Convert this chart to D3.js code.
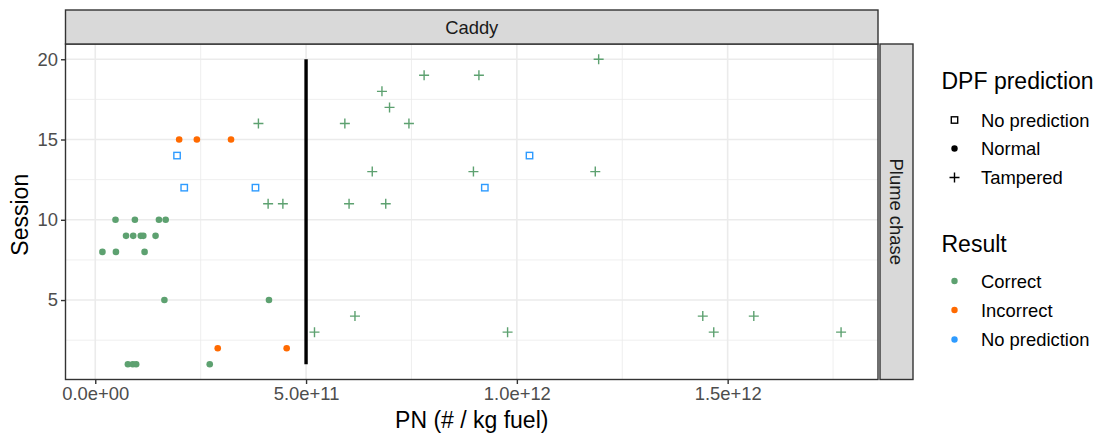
<!DOCTYPE html>
<html>
<head>
<meta charset="utf-8">
<script src="https://cdn.jsdelivr.net/npm/d3@7"></script>
<style>
  body { margin: 0; background: #fff; }
  svg { display: block; font-family: "Liberation Sans", Arial, Helvetica, sans-serif; }
</style>
</head>
<body>
<svg id="chart" width="1104" height="436"></svg>
<script>
// Particle number per session, one entry per measured vehicle
const session = [20, 19, 19, 18, 17, 16, 16, 16, 15, 15, 15, 14, 14, 13, 13, 13,
  12, 12, 12, 11, 11, 11, 11, 10, 10, 10, 10, 9, 9, 9, 9, 9, 8, 8, 8, 5, 5,
  4, 4, 4, 3, 3, 3, 3, 2, 2, 1, 1, 1, 1];
const pn = [1.194e12, 0.780e12, 0.910e12, 0.680e12, 0.698e12, 0.387e12, 0.592e12, 0.744e12,
  0.199e12, 0.241e12, 0.322e12, 0.194e12, 1.030e12, 0.657e12, 0.897e12, 1.186e12,
  0.211e12, 0.380e12, 0.924e12, 0.410e12, 0.445e12, 0.602e12, 0.689e12,
  0.048e12, 0.094e12, 0.151e12, 0.167e12, 0.073e12, 0.090e12, 0.108e12, 0.114e12, 0.143e12,
  0.017e12, 0.049e12, 0.117e12, 0.164e12, 0.412e12,
  0.616e12, 1.441e12, 1.562e12, 0.520e12, 0.978e12, 1.467e12, 1.769e12,
  0.2905e12, 0.454e12, 0.0774e12, 0.089e12, 0.097e12, 0.2715e12];
const dpf = ["Tampered", "Tampered", "Tampered", "Tampered", "Tampered", "Tampered", "Tampered", "Tampered",
  "Normal", "Normal", "Normal", "No prediction", "No prediction", "Tampered", "Tampered", "Tampered",
  "No prediction", "No prediction", "No prediction", "Tampered", "Tampered", "Tampered", "Tampered",
  "Normal", "Normal", "Normal", "Normal", "Normal", "Normal", "Normal", "Normal", "Normal",
  "Normal", "Normal", "Normal", "Normal", "Normal",
  "Tampered", "Tampered", "Tampered", "Tampered", "Tampered", "Tampered", "Tampered",
  "Normal", "Normal", "Normal", "Normal", "Normal", "Normal"];
const result = ["Correct", "Correct", "Correct", "Correct", "Correct", "Correct", "Correct", "Correct",
  "Incorrect", "Incorrect", "Incorrect", "No prediction", "No prediction", "Correct", "Correct", "Correct",
  "No prediction", "No prediction", "No prediction", "Correct", "Correct", "Correct", "Correct",
  "Correct", "Correct", "Correct", "Correct", "Correct", "Correct", "Correct", "Correct", "Correct",
  "Correct", "Correct", "Correct", "Correct", "Correct",
  "Correct", "Correct", "Correct", "Correct", "Correct", "Correct", "Correct",
  "Incorrect", "Incorrect", "Correct", "Correct", "Correct", "Correct"];

// Threshold marker
const threshold = 5e11;
const thresholdSessions = [1, 20];

// Axis breaks and legend entries
const xTicks = [0, 5e11, 1e12, 1.5e12];
const xMinor = [2.5e11, 7.5e11, 1.25e12, 1.75e12];
const yTicks = [5, 10, 15, 20];
const yMinor = [2.5, 7.5, 12.5, 17.5];
const dpfLevels = ["No prediction", "Normal", "Tampered"];
const resultLevels = ["Correct", "Incorrect", "No prediction"];
const resultColors = ["#5DA170", "#FF6A00", "#2E9BFF"];
const rowLabel = "Caddy";
const colLabel = "Plume chase";

const svg = d3.select("#chart");
const W = 1104, H = 436;
svg.append("rect").attr("width", W).attr("height", H).attr("fill", "#fff");

const panel = { left: 65.5, right: 878, top: 44, bottom: 379.5 };

function expand(ext, f) {
  const r = ext[1] - ext[0];
  return [ext[0] - r * f, ext[1] + r * f];
}
const x = d3.scaleLinear().domain(expand(d3.extent(pn), 0.05)).range([panel.left, panel.right]);
const y = d3.scaleLinear().domain(expand(d3.extent(session), 0.05)).range([panel.bottom, panel.top]);
const color = d3.scaleOrdinal().domain(resultLevels).range(resultColors);

const sciFmt = v => {
  if (v === 0) return "0.0e+00";
  const e = Math.floor(Math.log10(Math.abs(v)));
  const m = v / Math.pow(10, e);
  return m.toFixed(1) + "e" + (e < 0 ? "-" : "+") + String(Math.abs(e)).padStart(2, "0");
};

const g = svg.append("g");

// grid
const grid = g.append("g");
grid.selectAll(".xmin").data(xMinor).join("line")
  .attr("x1", d => x(d)).attr("x2", d => x(d)).attr("y1", panel.top).attr("y2", panel.bottom)
  .attr("stroke", "#EBEBEB").attr("stroke-width", 0.8);
grid.selectAll(".ymin").data(yMinor).join("line")
  .attr("y1", d => y(d)).attr("y2", d => y(d)).attr("x1", panel.left).attr("x2", panel.right)
  .attr("stroke", "#EBEBEB").attr("stroke-width", 0.8);
grid.selectAll(".xmaj").data(xTicks).join("line")
  .attr("x1", d => x(d)).attr("x2", d => x(d)).attr("y1", panel.top).attr("y2", panel.bottom)
  .attr("stroke", "#EBEBEB").attr("stroke-width", 1.6);
grid.selectAll(".ymaj").data(yTicks).join("line")
  .attr("y1", d => y(d)).attr("y2", d => y(d)).attr("x1", panel.left).attr("x2", panel.right)
  .attr("stroke", "#EBEBEB").attr("stroke-width", 1.6);

// threshold line
g.append("line")
  .attr("x1", x(threshold)).attr("x2", x(threshold))
  .attr("y1", y(thresholdSessions[0])).attr("y2", y(thresholdSessions[1]))
  .attr("stroke", "#000").attr("stroke-width", 3.4);

// points
const rows = pn.map((v, i) => ({ pn: v, session: session[i], dpf: dpf[i], result: result[i] }));
function drawShape(sel, shape, fill, sq, r, pl) {
  if (shape === "No prediction") {
    sel.append("rect").attr("x", -sq / 2).attr("y", -sq / 2).attr("width", sq).attr("height", sq)
      .attr("fill", "none").attr("stroke", fill).attr("stroke-width", 1.4);
  } else if (shape === "Normal") {
    sel.append("circle").attr("r", r).attr("fill", fill);
  } else {
    sel.append("path").attr("d", `M${-pl},0H${pl}M0,${-pl}V${pl}`)
      .attr("stroke", fill).attr("stroke-width", 1.4).attr("fill", "none");
  }
}
const pts = g.append("g");
rows.forEach(d => {
  const p = pts.append("g").attr("transform", `translate(${x(d.pn)},${y(d.session)})`);
  drawShape(p, d.dpf, color(d.result), 6.4, 3.3, 5);
});

// panel border
g.append("rect").attr("x", panel.left).attr("y", panel.top)
  .attr("width", panel.right - panel.left).attr("height", panel.bottom - panel.top)
  .attr("fill", "none").attr("stroke", "#333").attr("stroke-width", 1.4);

// strips
g.append("rect").attr("x", panel.left).attr("y", 10)
  .attr("width", panel.right - panel.left).attr("height", panel.top - 10)
  .attr("fill", "#D9D9D9").attr("stroke", "#333").attr("stroke-width", 1.4);
g.append("text").attr("x", (panel.left + panel.right) / 2).attr("y", (10 + panel.top) / 2)
  .attr("text-anchor", "middle").attr("dominant-baseline", "central")
  .attr("font-size", 18.4).attr("fill", "#1A1A1A").text(rowLabel);
g.append("rect").attr("x", 880).attr("y", panel.top)
  .attr("width", 33).attr("height", panel.bottom - panel.top)
  .attr("fill", "#D9D9D9").attr("stroke", "#333").attr("stroke-width", 1.4);
g.append("text")
  .attr("transform", `translate(896.5,${(panel.top + panel.bottom) / 2}) rotate(90)`)
  .attr("text-anchor", "middle").attr("dominant-baseline", "central")
  .attr("font-size", 18.4).attr("fill", "#1A1A1A").text(colLabel);

// axes
const xAxis = g.append("g").attr("transform", `translate(0,${panel.bottom})`)
  .call(d3.axisBottom(x).tickValues(xTicks).tickFormat(sciFmt).tickSize(4.5).tickPadding(3));
const yAxis = g.append("g").attr("transform", `translate(${panel.left},0)`)
  .call(d3.axisLeft(y).tickValues(yTicks).tickSize(4.5).tickPadding(3));
[xAxis, yAxis].forEach(a => {
  a.select(".domain").remove();
  a.selectAll(".tick line").attr("stroke", "#333").attr("stroke-width", 1.4);
  a.selectAll(".tick text").attr("fill", "#4D4D4D").attr("font-size", 18.4)
    .attr("font-family", "Liberation Sans, Arial, sans-serif");
});

// axis titles
g.append("text").attr("x", (panel.left + panel.right) / 2).attr("y", 428)
  .attr("text-anchor", "middle").attr("font-size", 23).attr("fill", "#000")
  .text("PN (# / kg fuel)");
g.append("text").attr("transform", `translate(28,${(panel.top + panel.bottom) / 2 + 3}) rotate(-90)`)
  .attr("text-anchor", "middle").attr("font-size", 23).attr("fill", "#000")
  .text("Session");

// legends
const lg = g.append("g");
lg.append("text").attr("x", 941.5).attr("y", 89).attr("font-size", 23).text("DPF prediction");
const dpfY = [120, 148.5, 177.5];
dpfLevels.forEach((lv, i) => {
  const k = lg.append("g").attr("transform", `translate(954.5,${dpfY[i]})`);
  drawShape(k, lv, "#000", 6.4, 3.2, 5);
  lg.append("text").attr("x", 981).attr("y", dpfY[i]).attr("dominant-baseline", "central")
    .attr("font-size", 18.4).text(lv);
});
lg.append("text").attr("x", 941.5).attr("y", 252).attr("font-size", 23).text("Result");
const resY = [281, 310, 339.5];
resultLevels.forEach((lv, i) => {
  lg.append("circle").attr("cx", 954.5).attr("cy", resY[i]).attr("r", 3.2).attr("fill", color(lv));
  lg.append("text").attr("x", 981).attr("y", resY[i]).attr("dominant-baseline", "central")
    .attr("font-size", 18.4).text(lv);
});
</script>
</body>
</html>
